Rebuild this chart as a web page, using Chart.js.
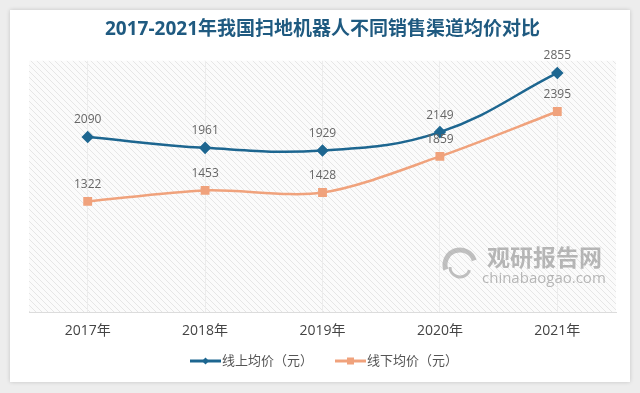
<!DOCTYPE html>
<html>
<head>
<meta charset="utf-8">
<script src="https://cdn.jsdelivr.net/npm/chart.js@4.4.1/dist/chart.umd.min.js"></script>
<style>
  html, body { margin: 0; padding: 0; background: #ededed; }
  body { width: 640px; height: 393px; position: relative; overflow: hidden; }
  .card {
    position: absolute; left: 10px; top: 10px; width: 620px; height: 372px;
    background: #fff; box-shadow: 0 0 4px rgba(0,0,0,0.18);
  }
  canvas { display: block; }
</style>
</head>
<body>
<div class="card"><canvas id="chart" width="620" height="372"></canvas></div>
<script>
const years = ["2017年", "2018年", "2019年", "2020年", "2021年"];
const onlinePrice = [2090, 1961, 1929, 2149, 2855];
const offlinePrice = [1322, 1453, 1428, 1859, 2395];
const seriesNames = ["线上均价（元）", "线下均价（元）"];

const BLUE = "#1d6690";
const ORANGE = "#f0a27c";
const FONT = "'Open Sans', 'Noto Sans CJK SC', sans-serif";

// hatched plot background
function makeHatch() {
  const c = document.createElement("canvas");
  c.width = 6; c.height = 6;
  const g = c.getContext("2d");
  g.fillStyle = "#fbfbfb";
  g.fillRect(0, 0, 6, 6);
  g.strokeStyle = "#e6e6e6";
  g.lineWidth = 1;
  g.beginPath();
  g.moveTo(0, 0); g.lineTo(6, 6);
  g.moveTo(-3, 3); g.lineTo(3, 9);
  g.moveTo(3, -3); g.lineTo(9, 3);
  g.stroke();
  return g.createPattern(c, "repeat");
}

const hatchBg = {
  id: "hatchBg",
  beforeDraw(chart) {
    const { ctx, chartArea: a } = chart;
    ctx.save();
    ctx.fillStyle = makeHatch();
    ctx.fillRect(a.left, a.top, a.right - a.left, a.bottom - a.top);
    ctx.restore();
  },
};

const valueLabels = {
  id: "valueLabels",
  afterDatasetsDraw(chart) {
    const ctx = chart.ctx;
    ctx.save();
    ctx.font = "12px " + FONT;
    ctx.fillStyle = "#666";
    ctx.textAlign = "center";
    ctx.textBaseline = "bottom";
    chart.data.datasets.forEach((ds, i) => {
      chart.getDatasetMeta(i).data.forEach((pt, j) => {
        ctx.fillText(ds.data[j], pt.x, pt.y - 11);
      });
    });
    ctx.restore();
  },
};

// legend with line + marker, like the original
const lineLegend = {
  id: "lineLegend",
  afterDraw(chart) {
    const ctx = chart.ctx;
    const y = 351;
    const items = [
      { x: 180, color: BLUE, style: "diamond", text: seriesNames[0] },
      { x: 325, color: ORANGE, style: "square", text: seriesNames[1] },
    ];
    ctx.save();
    items.forEach((it) => {
      ctx.strokeStyle = it.color;
      ctx.lineWidth = 3;
      ctx.beginPath();
      ctx.moveTo(it.x, y);
      ctx.lineTo(it.x + 31, y);
      ctx.stroke();
      ctx.fillStyle = it.color;
      const cx = it.x + 15.5;
      if (it.style === "diamond") {
        ctx.beginPath();
        ctx.moveTo(cx, y - 3.5); ctx.lineTo(cx + 3.5, y);
        ctx.lineTo(cx, y + 3.5); ctx.lineTo(cx - 3.5, y);
        ctx.closePath(); ctx.fill();
      } else {
        ctx.fillRect(cx - 3.5, y - 3.5, 7, 7);
      }
      ctx.fillStyle = "#555";
      ctx.font = "13px " + FONT;
      ctx.textBaseline = "middle";
      ctx.fillText(it.text, it.x + 32, y);
    });
    // watermark
    ctx.globalAlpha = 0.6;
    ctx.fillStyle = "#8a8a8a";
    ctx.strokeStyle = "#9a9a9a";
    ctx.lineWidth = 5;
    ctx.beginPath();
    ctx.arc(450, 255, 15, Math.PI * 0.9, Math.PI * 1.9);
    ctx.stroke();
    ctx.lineWidth = 3;
    ctx.beginPath();
    ctx.arc(450, 257, 10, Math.PI * 0.1, Math.PI * 1.0);
    ctx.stroke();
    ctx.textBaseline = "middle";
    ctx.font = "bold 23px 'Noto Sans CJK SC', sans-serif";
    ctx.fillText("观研报告网", 477, 247);
    ctx.font = "15px " + FONT;
    ctx.fillText("chinabaogao.com", 472, 269);
    ctx.restore();
  },
};

new Chart(document.getElementById("chart"), {
  type: "line",
  data: {
    labels: years,
    datasets: [
      {
        label: seriesNames[0],
        data: onlinePrice,
        borderColor: BLUE,
        backgroundColor: BLUE,
        borderWidth: 2.5,
        tension: 0.4,
        pointStyle: "rectRot",
        pointRadius: 4.5,
        pointHoverRadius: 4.5,
      },
      {
        label: seriesNames[1],
        data: offlinePrice,
        borderColor: ORANGE,
        backgroundColor: ORANGE,
        borderWidth: 2.5,
        tension: 0.3,
        pointStyle: "rect",
        pointRadius: 4.5,
        pointHoverRadius: 4.5,
      },
    ],
  },
  options: {
    responsive: false,
    animation: false,
    layout: { padding: { left: 19, right: 14, top: 0, bottom: 33 } },
    plugins: {
      legend: { display: false },
      tooltip: { enabled: false },
      title: {
        display: true,
        text: "2017-2021年我国扫地机器人不同销售渠道均价对比",
        color: "#1f5a80",
        font: { family: FONT, size: 19, weight: "bold" },
        padding: { top: 8, bottom: 20 },
      },
    },
    scales: {
      x: {
        offset: true,
        grid: { color: "#ececec", drawTicks: false },
        border: { color: "#dcdcdc" },
        ticks: {
          color: "#444",
          font: { family: FONT, size: 14 },
          padding: 10,
        },
      },
      y: {
        display: false,
        min: 0,
        max: 3000,
      },
    },
  },
  plugins: [hatchBg, valueLabels, lineLegend],
});
</script>
</body>
</html>
